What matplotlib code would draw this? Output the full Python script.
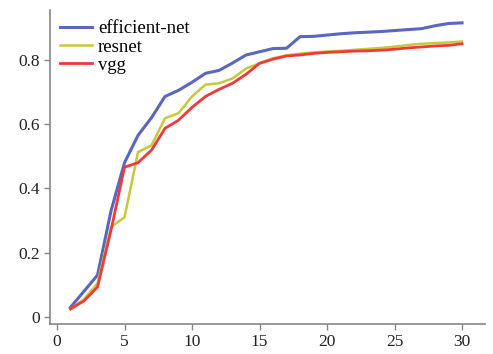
import matplotlib
matplotlib.use("Agg")
import matplotlib.pyplot as plt

epochs = list(range(1, 31))
efficient_net = [0.03, 0.08, 0.13, 0.33, 0.48, 0.565, 0.62, 0.686, 0.705, 0.73,
                 0.758, 0.767, 0.79, 0.815, 0.825, 0.835, 0.836, 0.872, 0.873, 0.877,
                 0.881, 0.884, 0.886, 0.888, 0.891, 0.894, 0.897, 0.906, 0.913, 0.915]
resnet = [0.025, 0.055, 0.105, 0.28, 0.31, 0.513, 0.534, 0.618, 0.634, 0.686,
          0.723, 0.727, 0.742, 0.773, 0.789, 0.805, 0.814, 0.819, 0.823, 0.826,
          0.828, 0.831, 0.834, 0.837, 0.841, 0.846, 0.85, 0.852, 0.854, 0.857]
vgg = [0.025, 0.05, 0.093, 0.27, 0.466, 0.48, 0.519, 0.587, 0.612, 0.652,
       0.686, 0.708, 0.727, 0.755, 0.789, 0.802, 0.812, 0.815, 0.82, 0.823,
       0.825, 0.827, 0.828, 0.83, 0.833, 0.837, 0.84, 0.843, 0.845, 0.85]
xticks = [0, 5, 10, 15, 20, 25, 30]
yticks = [0, 0.2, 0.4, 0.6, 0.8]

plt.rcParams['font.family'] = ['Liberation Serif', 'DejaVu Serif']
fig = plt.figure(figsize=(4.93, 3.54), dpi=100)
ax = fig.add_axes([50/493, 30/354, 435/493, 314/354])

ax.plot(epochs, efficient_net, color='#5a66c0', lw=2.2, label='efficient-net')
ax.plot(epochs, resnet, color='#c8c83a', lw=1.8, label='resnet')
ax.plot(epochs, vgg, color='#f03a3a', lw=2.0, label='vgg')

ax.set_xlim(-0.52, 31.7)
ax.set_ylim(-0.022, 0.955)
ax.set_xticks(xticks)
ax.set_xticklabels([str(t) for t in xticks])
ax.set_yticks(yticks)
ax.set_yticklabels(['0', '0.2', '0.4', '0.6', '0.8'])
for s in ['top', 'right']:
    ax.spines[s].set_visible(False)
for s in ['left', 'bottom']:
    ax.spines[s].set_color('#888888')
    ax.spines[s].set_linewidth(1.2)
ax.tick_params(direction='out', length=4, width=1, colors='#888888',
               labelcolor='#222222', labelsize=12.5)

ax.legend(loc='upper left', frameon=False, fontsize=13.5, handlelength=1.7,
          handletextpad=0.3, labelspacing=0.05, borderaxespad=0.15,
          bbox_to_anchor=(0.0, 1.0))

fig.savefig('out.png', dpi=100)
